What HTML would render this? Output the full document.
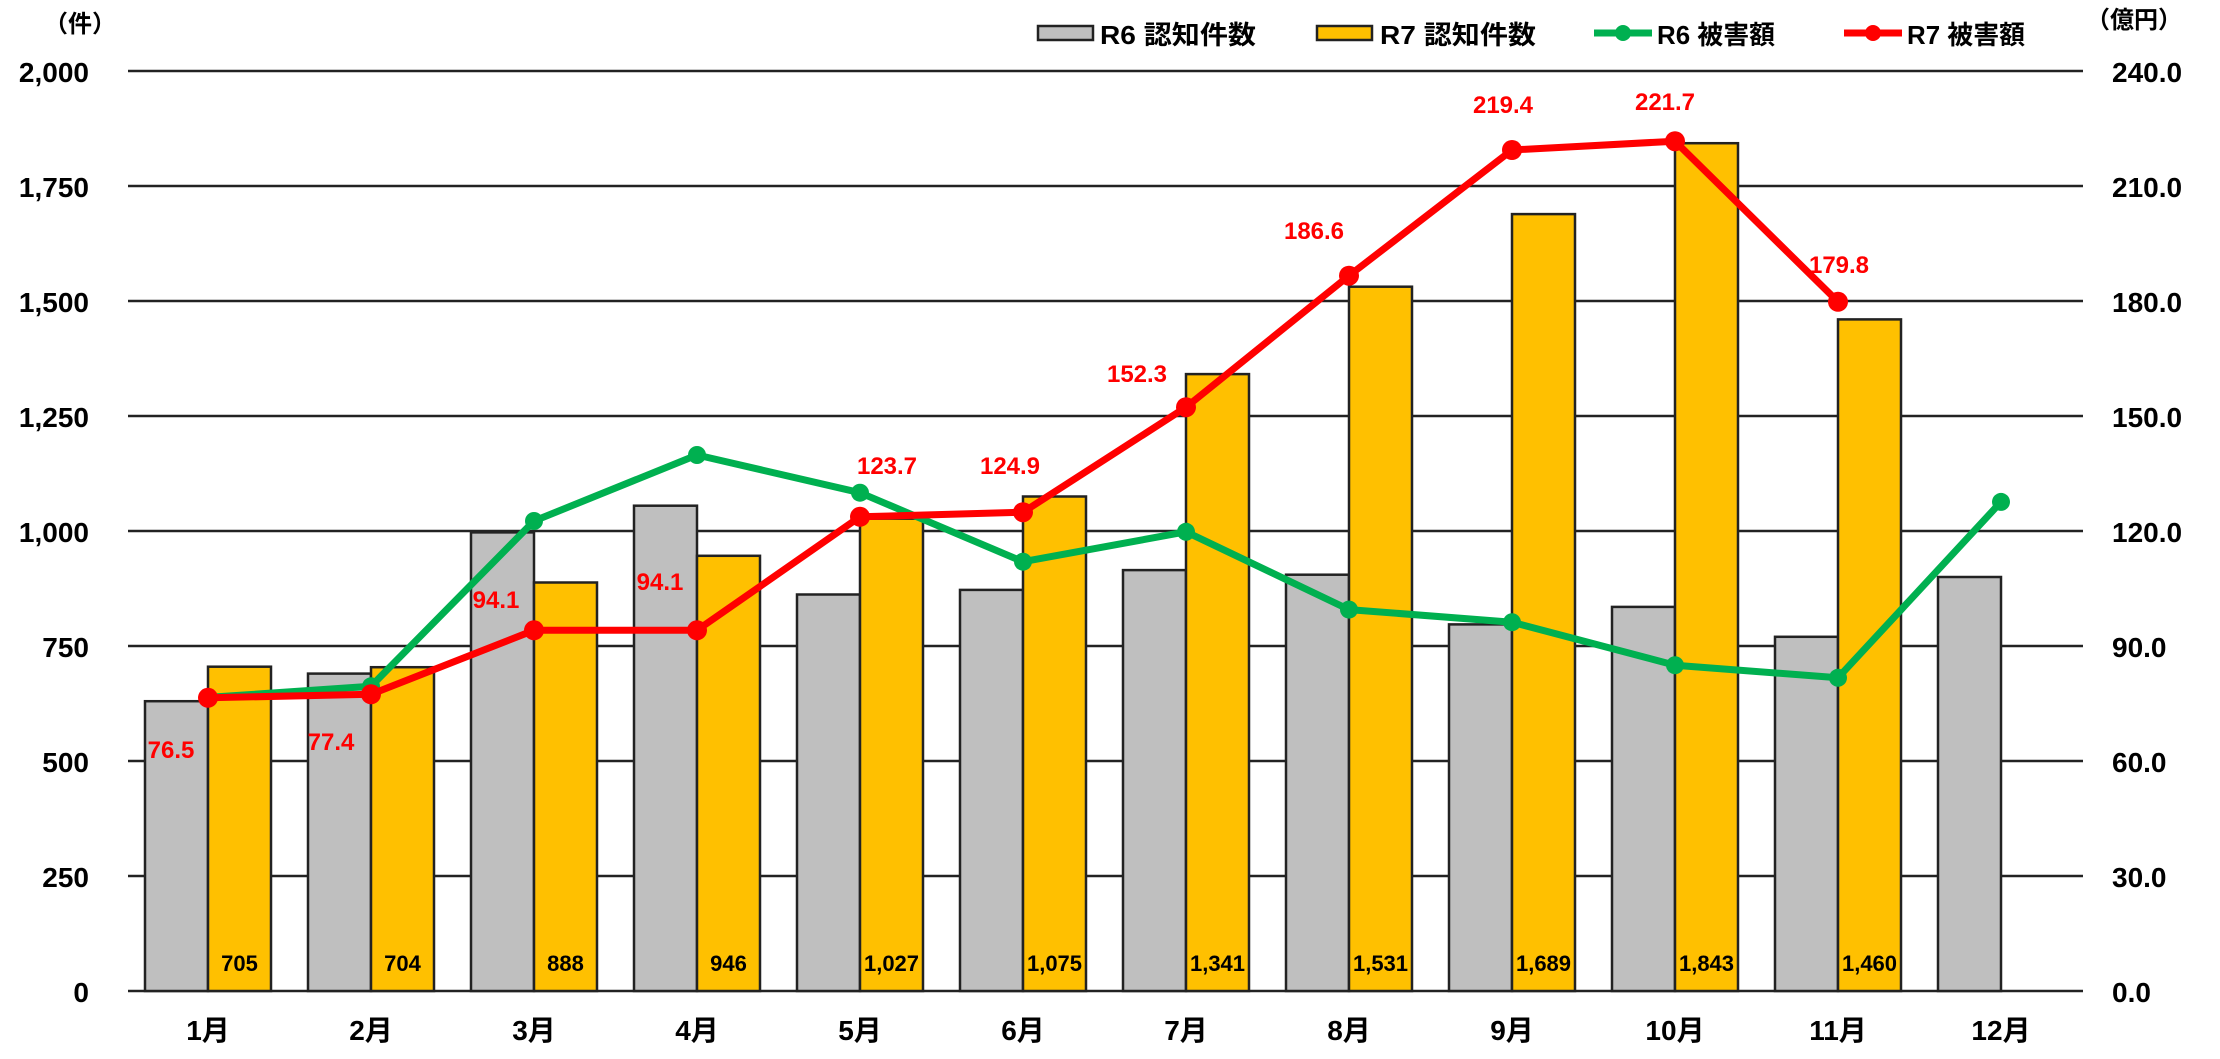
<!DOCTYPE html>
<html><head><meta charset="utf-8"><style>
html,body{margin:0;padding:0;background:#fff;}
svg text{font-family:"Liberation Sans","Noto Sans CJK JP",sans-serif;font-weight:bold;}
</style></head><body>
<svg width="2220" height="1054" viewBox="0 0 2220 1054" xmlns="http://www.w3.org/2000/svg">
<rect width="2220" height="1054" fill="#fff"/>
<g stroke="#222" stroke-width="2.5">
<line x1="128" y1="71" x2="2083" y2="71"/><line x1="128" y1="186" x2="2083" y2="186"/>
<line x1="128" y1="301" x2="2083" y2="301"/><line x1="128" y1="416" x2="2083" y2="416"/>
<line x1="128" y1="531" x2="2083" y2="531"/><line x1="128" y1="646" x2="2083" y2="646"/>
<line x1="128" y1="761" x2="2083" y2="761"/><line x1="128" y1="876" x2="2083" y2="876"/>
<line x1="128" y1="991" x2="2083" y2="991"/>
</g>
<g font-size="28" fill="#000" text-anchor="end">
<text x="89" y="82">2,000</text><text x="89" y="197">1,750</text><text x="89" y="312">1,500</text>
<text x="89" y="427">1,250</text><text x="89" y="542">1,000</text><text x="89" y="657">750</text>
<text x="89" y="772">500</text><text x="89" y="887">250</text><text x="89" y="1002">0</text>
</g>
<g font-size="28" fill="#000">
<text x="2112" y="82">240.0</text><text x="2112" y="197">210.0</text><text x="2112" y="312">180.0</text>
<text x="2112" y="427">150.0</text><text x="2112" y="542">120.0</text><text x="2112" y="657">90.0</text>
<text x="2112" y="772">60.0</text><text x="2112" y="887">30.0</text><text x="2112" y="1002">0.0</text>
</g>
<text x="44" y="32" font-size="24">（件）</text>
<text x="2086" y="28" font-size="24">（億円）</text>
<g stroke="#222" stroke-width="2.5" fill="#bfbfbf">
<rect x="145" y="701.2" width="63" height="289.8"/><rect x="308" y="673.6" width="63" height="317.4"/>
<rect x="471" y="532.4" width="63" height="458.6"/><rect x="634" y="505.7" width="63" height="485.3"/>
<rect x="797" y="594.5" width="63" height="396.5"/><rect x="960" y="589.9" width="63" height="401.1"/>
<rect x="1123" y="570.1" width="63" height="420.9"/><rect x="1286" y="574.7" width="63" height="416.3"/>
<rect x="1449" y="624.4" width="63" height="366.6"/><rect x="1612" y="606.9" width="63" height="384.1"/>
<rect x="1775" y="636.8" width="63" height="354.2"/><rect x="1938" y="577" width="63" height="414"/>
</g>
<g stroke="#222" stroke-width="2.5" fill="#ffc000">
<rect x="208" y="666.7" width="63" height="324.3"/><rect x="371" y="667.2" width="63" height="323.8"/>
<rect x="534" y="582.5" width="63" height="408.5"/><rect x="697" y="555.8" width="63" height="435.2"/>
<rect x="860" y="518.6" width="63" height="472.4"/><rect x="1023" y="496.5" width="63" height="494.5"/>
<rect x="1186" y="374.1" width="63" height="616.9"/><rect x="1349" y="286.7" width="63" height="704.3"/>
<rect x="1512" y="214.1" width="63" height="776.9"/><rect x="1675" y="143.2" width="63" height="847.8"/>
<rect x="1838" y="319.4" width="63" height="671.6"/>
</g>
<g font-size="22" fill="#000" text-anchor="middle">
<text x="239.5" y="971">705</text><text x="402.5" y="971">704</text><text x="565.5" y="971">888</text>
<text x="728.5" y="971">946</text><text x="891.5" y="971">1,027</text><text x="1054.5" y="971">1,075</text>
<text x="1217.5" y="971">1,341</text><text x="1380.5" y="971">1,531</text><text x="1543.5" y="971">1,689</text>
<text x="1706.5" y="971">1,843</text><text x="1869.5" y="971">1,460</text>
</g>
<polyline fill="none" stroke="#00b050" stroke-width="7" stroke-linejoin="round" points="208,697.4 371,686.3 534,521 697,455 860,492.7 1023,561.7 1186,531.8 1349,609.6 1512,622.2 1675,665.2 1838,677.8 2001,501.9"/>
<g fill="#00b050">
<circle cx="208" cy="697.4" r="9"/><circle cx="371" cy="686.3" r="9"/><circle cx="534" cy="521" r="9"/>
<circle cx="697" cy="455" r="9"/><circle cx="860" cy="492.7" r="9"/><circle cx="1023" cy="561.7" r="9"/>
<circle cx="1186" cy="531.8" r="9"/><circle cx="1349" cy="609.6" r="9"/><circle cx="1512" cy="622.2" r="9"/>
<circle cx="1675" cy="665.2" r="9"/><circle cx="1838" cy="677.8" r="9"/><circle cx="2001" cy="501.9" r="9"/>
</g>
<polyline fill="none" stroke="#ff0000" stroke-width="7" stroke-linejoin="round" points="208,697.8 371,694.3 534,630.3 697,630.3 860,516.8 1023,512.2 1186,407.2 1349,275.7 1512,150 1675,141.2 1838,301.8"/>
<g fill="#ff0000">
<circle cx="208" cy="697.8" r="10"/><circle cx="371" cy="694.3" r="10"/><circle cx="534" cy="630.3" r="10"/>
<circle cx="697" cy="630.3" r="10"/><circle cx="860" cy="516.8" r="10"/><circle cx="1023" cy="512.2" r="10"/>
<circle cx="1186" cy="407.2" r="10"/><circle cx="1349" cy="275.7" r="10"/><circle cx="1512" cy="150" r="10"/>
<circle cx="1675" cy="141.2" r="10"/><circle cx="1838" cy="301.8" r="10"/>
</g>
<g font-size="24" fill="#ff0000" text-anchor="middle">
<text x="171" y="758">76.5</text><text x="331" y="750">77.4</text><text x="496" y="608">94.1</text>
<text x="660" y="590">94.1</text><text x="887" y="474">123.7</text><text x="1010" y="474">124.9</text>
<text x="1137" y="382">152.3</text><text x="1314" y="239">186.6</text><text x="1503" y="113">219.4</text>
<text x="1665" y="110">221.7</text><text x="1839" y="273">179.8</text>
</g>
<g font-size="28" fill="#000" text-anchor="middle">
<text x="208" y="1040">1月</text><text x="371" y="1040">2月</text><text x="534" y="1040">3月</text>
<text x="697" y="1040">4月</text><text x="860" y="1040">5月</text><text x="1023" y="1040">6月</text>
<text x="1186" y="1040">7月</text><text x="1349" y="1040">8月</text><text x="1512" y="1040">9月</text>
<text x="1675" y="1040">10月</text><text x="1838" y="1040">11月</text><text x="2001" y="1040">12月</text>
</g>
<rect x="1038" y="26" width="55" height="14" fill="#bfbfbf" stroke="#222" stroke-width="2.5"/>
<text x="1100" y="44" font-size="26" textLength="156" lengthAdjust="spacingAndGlyphs">R6 認知件数</text>
<rect x="1317" y="26" width="55" height="14" fill="#ffc000" stroke="#222" stroke-width="2.5"/>
<text x="1380" y="44" font-size="26" textLength="156" lengthAdjust="spacingAndGlyphs">R7 認知件数</text>
<line x1="1594" y1="33" x2="1652" y2="33" stroke="#00b050" stroke-width="7"/><circle cx="1623" cy="33" r="8" fill="#00b050"/>
<text x="1657" y="44" font-size="26" textLength="118" lengthAdjust="spacingAndGlyphs">R6 被害額</text>
<line x1="1844" y1="33" x2="1902" y2="33" stroke="#ff0000" stroke-width="7"/><circle cx="1873" cy="33" r="8" fill="#ff0000"/>
<text x="1907" y="44" font-size="26" textLength="118" lengthAdjust="spacingAndGlyphs">R7 被害額</text>
</svg>
</body></html>
